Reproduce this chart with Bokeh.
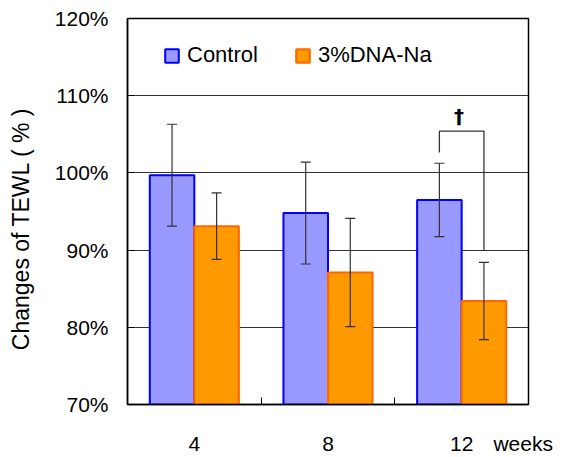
from bokeh.plotting import figure
from bokeh.models import (ColumnDataSource, Range1d, FixedTicker, PrintfTickFormatter,
                          Whisker, TeeHead, Legend, LegendItem)
from bokeh.core.properties import value
from bokeh.embed import file_html
from bokeh.resources import INLINE

# TEWL change relative to baseline (%), mean and SD per time point
weeks = ["4", "8", "12"]
control_mean = [99.7, 94.8, 96.5]
control_sd = [6.6, 6.6, 4.75]
dna_mean = [93.1, 87.1, 83.4]
dna_sd = [4.3, 7.0, 5.0]
unit_label = "weeks"

# significance bracket at week 12 (control vs 3%DNA-Na)
sig_group = 2
sig_mark = "†"
sig_bracket_top = 105.4

FONT = "Liberation Sans"
group_x = [i + 1 for i in range(len(weeks))]
bar_w = 1 / 3

ctrl_x = [g - bar_w / 2 for g in group_x]
dna_x = [g + bar_w / 2 for g in group_x]

ctrl_src = ColumnDataSource(dict(
    x=ctrl_x, top=control_mean,
    upper=[m + s for m, s in zip(control_mean, control_sd)],
    lower=[m - s for m, s in zip(control_mean, control_sd)]))
dna_src = ColumnDataSource(dict(
    x=dna_x, top=dna_mean,
    upper=[m + s for m, s in zip(dna_mean, dna_sd)],
    lower=[m - s for m, s in zip(dna_mean, dna_sd)]))

p = figure(width=563, height=457, output_backend="svg", toolbar_location=None,
           x_range=Range1d(0.5, 3.5), y_range=Range1d(70, 120),
           min_border_left=127, min_border_right=35, min_border_top=18,
           min_border_bottom=52)
p.background_fill_color = "white"
p.border_fill_color = "white"
p.outline_line_color = "black"
p.outline_line_width = 1.5

r_ctrl = p.vbar(x="x", top="top", bottom=70, width=bar_w, source=ctrl_src,
                fill_color="#9999FF", line_color="#0000FF", line_width=2)
r_dna = p.vbar(x="x", top="top", bottom=70, width=bar_w, source=dna_src,
               fill_color="#FF9900", line_color="#FF6600", line_width=2)

for src in (ctrl_src, dna_src):
    w = Whisker(base="x", upper="upper", lower="lower", source=src, level="overlay",
                line_color="#333333", line_width=1.2,
                upper_head=TeeHead(size=10, line_color="#333333", line_width=1.2),
                lower_head=TeeHead(size=10, line_color="#333333", line_width=1.2))
    p.add_layout(w)

# significance bracket drawn from the week-12 bars
lx = ctrl_x[sig_group]
rx = dna_x[sig_group]
l_bottom = ctrl_src.data["upper"][sig_group] + 1.4
r_bottom = dna_src.data["upper"][sig_group] + 1.6
p.line([lx, lx, rx, rx], [l_bottom, sig_bracket_top, sig_bracket_top, r_bottom],
       line_color="#333333", line_width=1.3)
p.text(x=[group_x[sig_group] - 0.02], y=[sig_bracket_top + 0.4], text=[sig_mark],
       text_font=value("DejaVu Sans"), text_font_size="20px", text_font_style="bold",
       text_align="center", text_baseline="bottom", text_color="black")

# axes
p.yaxis.ticker = FixedTicker(ticks=[70, 80, 90, 100, 110, 120])
p.yaxis.formatter = PrintfTickFormatter(format="%d%%")
p.yaxis.major_tick_in = 7
p.yaxis.major_tick_out = 0
p.yaxis.minor_tick_line_color = None
p.yaxis.major_label_text_font = FONT
p.yaxis.major_label_text_font_size = "21px"
p.yaxis.major_label_text_color = "black"
p.yaxis.major_label_standoff = 19
p.yaxis.axis_line_color = "black"
p.yaxis.axis_line_width = 1.5
# trailing em/en spaces push the rotated title a little lower
p.yaxis.axis_label = "Changes of TEWL ( % )\u2003\u2002"
p.yaxis.axis_label_text_font = FONT
p.yaxis.axis_label_text_font_size = "23px"
p.yaxis.axis_label_text_font_style = "normal"
p.yaxis.axis_label_text_color = "black"
p.yaxis.axis_label_standoff = 18

# week labels sit under the groups; the unit sits at the right end of the axis
unit_x = 3.46
p.xaxis.ticker = FixedTicker(ticks=group_x + [unit_x], minor_ticks=[1.5, 2.5])
labels = {g: w for g, w in zip(group_x, weeks)}
labels[unit_x] = unit_label
p.xaxis.major_label_overrides = labels
p.xaxis.major_tick_in = 0
p.xaxis.major_tick_out = 0
p.xaxis.minor_tick_in = 7
p.xaxis.minor_tick_out = 0
p.xaxis.minor_tick_line_color = "black"
p.xaxis.major_label_text_font = FONT
p.xaxis.major_label_text_font_size = "21px"
p.xaxis.major_label_text_color = "black"
p.xaxis.major_label_standoff = 27
p.xaxis.axis_line_color = "black"
p.xaxis.axis_line_width = 1.5

p.xgrid.grid_line_color = None
p.ygrid.ticker = FixedTicker(ticks=[80, 90, 100, 110])
p.ygrid.grid_line_color = "#333333"
p.ygrid.grid_line_width = 1

legend = Legend(items=[LegendItem(label="Control", renderers=[r_ctrl]),
                       LegendItem(label="3%DNA-Na", renderers=[r_dna])],
                orientation="horizontal", location=(36, 336),
                label_text_font=FONT, label_text_font_size="22px",
                label_text_color="black", glyph_width=17, glyph_height=17,
                label_standoff=7, spacing=36, padding=0, margin=0,
                border_line_color=None, background_fill_alpha=0)
p.add_layout(legend, "center")

open("out.html", "w").write(file_html(p, INLINE))
